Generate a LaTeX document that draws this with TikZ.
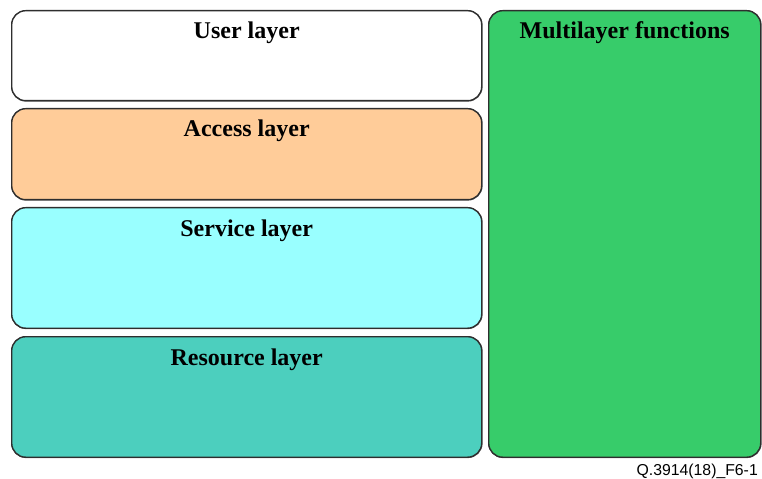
\documentclass[tikz,border=0pt]{standalone}
\usepackage{fontspec}
\setmainfont{Liberation Serif}
\newfontfamily\labelfont{Liberation Sans}
\definecolor{accessc}{HTML}{FFCC99}
\definecolor{servicec}{HTML}{99FFFF}
\definecolor{resourcec}{HTML}{4CCFBE}
\definecolor{multic}{HTML}{37CC6A}
\definecolor{edgec}{HTML}{2E2E2E}
\tikzset{
  layerbox/.style={draw=edgec, line width=1.4bp, rounded corners=14bp},
  shadowline/.style={draw=black!55, line width=1.4bp, rounded corners=14bp},
  boxtitle/.style={font=\fontsize{24bp}{28bp}\selectfont\bfseries, anchor=base, inner sep=0pt},
  figlabel/.style={font=\labelfont\fontsize{15.8bp}{18bp}\selectfont, anchor=base east, inner sep=0pt}
}
\begin{document}
\begin{tikzpicture}[x=1bp, y=-1bp]
\useasboundingbox (0,0) rectangle (762,479);
% shadows
\foreach \a/\b/\c/\d in {11/10/481/100, 11/108/481/199, 11/207/481/327.5, 11/336/481/456.5, 488/10/760/456.5}{
  \draw[shadowline] (\a+0.9,\b+0.9) rectangle (\c+0.9,\d+0.9);
}
\node[layerbox, fill=white, minimum width=470bp, minimum height=90bp, anchor=north west] (user) at (11,10) {};
\node[layerbox, fill=accessc, minimum width=470bp, minimum height=91bp, anchor=north west] (access) at (11,108) {};
\node[layerbox, fill=servicec, minimum width=470bp, minimum height=120.5bp, anchor=north west] (service) at (11,207) {};
\node[layerbox, fill=resourcec, minimum width=470bp, minimum height=120.5bp, anchor=north west] (resource) at (11,336) {};
\node[layerbox, fill=multic, minimum width=272bp, minimum height=446.5bp, anchor=north west] (multi) at (488,10) {};
\node[boxtitle] (usert) at ([yshift=-29bp]user.north) {User layer};
\node[boxtitle] (accesst) at ([yshift=-29bp]access.north) {Access layer};
\node[boxtitle] (servicet) at ([yshift=-29bp]service.north) {Service layer};
\node[boxtitle] (resourcet) at ([yshift=-29bp]resource.north) {Resource layer};
\node[boxtitle] (multit) at ([yshift=-29bp]multi.north) {Multilayer functions};
\node[figlabel] (lbl) at (758,475) {Q.3914(18)\_F6-1};
\end{tikzpicture}
\end{document}
